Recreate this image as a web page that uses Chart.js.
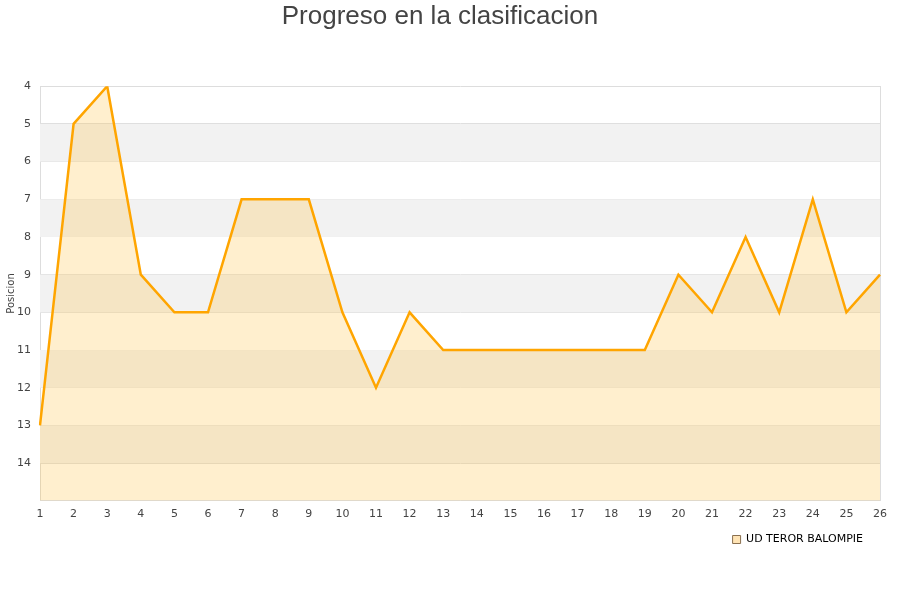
<!DOCTYPE html>
<html>
<head>
<meta charset="utf-8">
<script src="https://cdn.jsdelivr.net/npm/chart.js@4"></script>
<style>
html,body{margin:0;padding:0;background:#fff;}
#wrap{width:900px;height:600px;}
</style>
</head>
<body>
<div id="wrap"><canvas id="c" width="900" height="600"></canvas></div>
<script>
const jornadas = ['1','2','3','4','5','6','7','8','9','10','11','12','13','14','15','16','17','18','19','20','21','22','23','24','25','26'];
const posiciones = [13,5,4,9,10,10,7,7,7,10,12,10,11,11,11,11,11,11,11,9,10,8,10,7,10,9];
const teamName = 'UD TEROR BALOMPIE';
const chartTitle = 'Progreso en la clasificacion';
const yTitle = 'Posicion';
const yMin = 4, yMax = 15;

const bandPlugin = {
  id: 'bands',
  afterLayout(chart) {
    if (chart.legend) { chart.legend.left -= 11; chart.legend.right -= 11; }
  },
  beforeDatasetsDraw(chart) {
    const {ctx, chartArea, scales} = chart;
    const y = scales.y;
    ctx.save();
    for (let v = yMin; v < yMax; v++) {
      if ((v - yMin) % 2 === 1) {
        const t = y.getPixelForValue(v);
        const b = y.getPixelForValue(v + 1);
        ctx.fillStyle = '#f2f2f2';
        ctx.fillRect(chartArea.left, Math.min(t,b), chartArea.right - chartArea.left, Math.abs(b - t));
      }
    }
    ctx.restore();
  }
};

new Chart(document.getElementById('c'), {
  type: 'line',
  data: {
    labels: jornadas,
    datasets: [{
      label: teamName,
      data: posiciones,
      borderColor: '#FFA500',
      backgroundColor: 'rgba(255,190,60,0.25)',
      borderWidth: 2.5,
      fill: {value: yMax},
      pointRadius: 0,
      tension: 0
    }]
  },
  options: {
    responsive: false,
    animation: false,
    layout: {padding: {left: 0, right: 20, top: 0, bottom: 45}},
    plugins: {
      title: {
        display: true,
        text: chartTitle,
        color: '#444',
        font: {family: 'Liberation Sans, Arial, sans-serif', size: 26, weight: 'normal'},
        padding: {top: 1, bottom: 54}
      },
      legend: {
        position: 'bottom',
        align: 'end',
        labels: {
          color: '#000',
          font: {family: 'DejaVu Sans, sans-serif', size: 11},
          boxWidth: 8,
          boxHeight: 8,
          padding: 6,
          generateLabels(chart) {
            return [{
              text: teamName,
              fillStyle: '#FFE4B5',
              strokeStyle: '#8a7050',
              lineWidth: 1,
              datasetIndex: 0
            }];
          }
        }
      },
      tooltip: {enabled: false}
    },
    scales: {
      x: {
        offset: false,
        grid: {display: false, drawTicks: false},
        border: {display: true, color: '#dddddd'},
        ticks: {color: '#444', font: {family: 'DejaVu Sans, sans-serif', size: 11}, padding: 7, maxRotation: 0, autoSkip: false}
      },
      y: {
        reverse: true,
        min: yMin,
        max: yMax,
        afterFit(s) { s.width = 40; },
        grid: {color: '#dddddd', drawTicks: false},
        border: {display: true, color: '#dddddd'},
        title: {display: true, text: yTitle, color: '#444', font: {family: 'DejaVu Sans, sans-serif', size: 10}, padding: {top: 5, bottom: 0}},
        ticks: {
          stepSize: 1,
          color: '#444',
          font: {family: 'DejaVu Sans, sans-serif', size: 11},
          padding: 9,
          callback: (v) => v >= yMax ? '' : v
        }
      },
      y2: {
        position: 'right',
        display: true,
        grid: {display: false, drawTicks: false},
        border: {display: true, color: '#dddddd'},
        ticks: {display: false}
      }
    }
  },
  plugins: [bandPlugin]
});
</script>
</body>
</html>
